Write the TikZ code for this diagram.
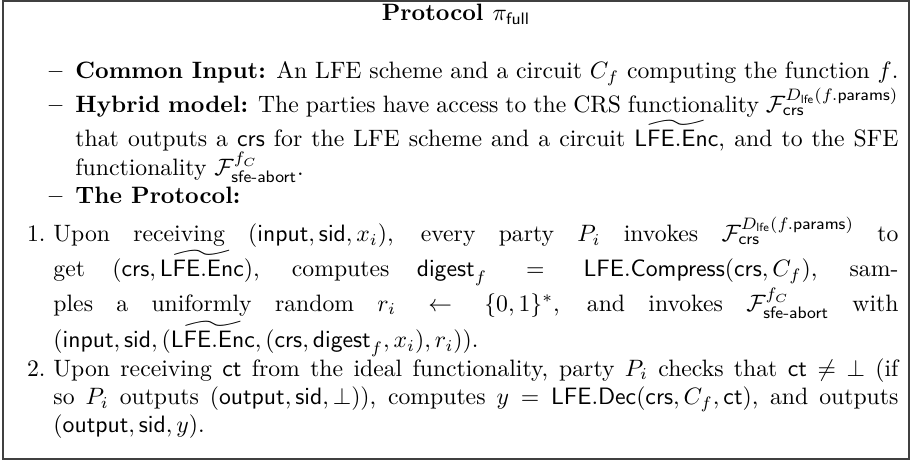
\documentclass[tikz,border=0pt]{standalone}
\usepackage{amsmath,amssymb}
\usepackage{enumitem}
\newdimen\pxu \pxu=0.422pt
\tikzset{
  frameline/.style={draw=black!75, line width=0.7pt},
  titletext/.style={inner sep=0pt, font=\bfseries, anchor=base},
  bodytext/.style={inner sep=0pt, text width=878\pxu, align=justify, anchor=north west}
}
\newcommand{\Fcrs}{\mathcal{F}_{\mathsf{crs}}^{D_{\mathsf{lfe}}(f.\mathsf{params})}}
\newcommand{\Fsfe}{\mathcal{F}^{f_C}_{\textsf{sfe-abort}}}
\newcommand{\encT}{\widetilde{\mathsf{LFE}.\mathsf{Enc}}}
\begin{document}
\begin{tikzpicture}[x=\pxu, y=-\pxu]
  \useasboundingbox (0,0) rectangle (912,461);
  % Frame
  \draw[frameline] (3,1) rectangle (909,459);
  % Title
  \node[titletext] (title) at (456,21) {Protocol $\pi_{\mathsf{full}}$};
  % Body
  \node[bodytext] (body) at (20,50) {%
    \begin{itemize}[leftmargin=55\pxu, labelsep=13\pxu, label=\textbf{--}, topsep=0pt, itemsep=0pt, parsep=0pt, partopsep=0pt]
      \item \textbf{Common Input:} An LFE scheme and a circuit $C_f$ computing the function $f$.
      \item \textbf{Hybrid model:} The parties have access to the CRS functionality $\Fcrs$ that outputs a $\mathsf{crs}$ for the LFE scheme and a circuit $\encT$, and to the SFE functionality $\Fsfe$.
      \item \textbf{The Protocol:}
    \end{itemize}
    \begin{enumerate}[leftmargin=33\pxu, labelsep=8\pxu, topsep=4pt, itemsep=0pt, parsep=0pt, partopsep=0pt]
      \item Upon receiving $(\mathsf{input},\mathsf{sid},x_i)$, every party $P_i$ invokes $\Fcrs$ to get $(\mathsf{crs},\encT)$, computes $\mathsf{digest}_f = \mathsf{LFE}.\mathsf{Compress}(\mathsf{crs},C_f)$, samples a uniformly random $r_i \leftarrow \{0,1\}^*$, and invokes $\Fsfe$ with $(\mathsf{input},\mathsf{sid},(\encT,(\mathsf{crs},\mathsf{digest}_f,x_i),r_i))$.
      \item Upon receiving $\mathsf{ct}$ from the ideal functionality, party $P_i$ checks that $\mathsf{ct}\neq\bot$ (if so $P_i$ outputs $(\mathsf{output},\mathsf{sid},\bot)$), computes $y=\mathsf{LFE}.\mathsf{Dec}(\mathsf{crs},C_f,\mathsf{ct})$, and outputs $(\mathsf{output},\mathsf{sid},y)$.
    \end{enumerate}%
  };
\end{tikzpicture}
\end{document}
